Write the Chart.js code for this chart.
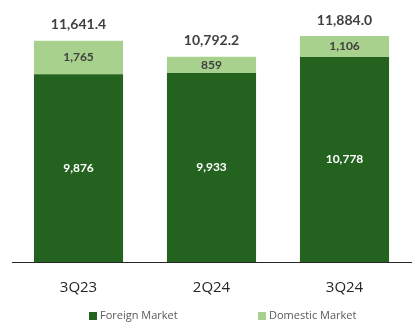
<!DOCTYPE html>
<html>
<head>
<meta charset="utf-8">
<script src="https://cdn.jsdelivr.net/npm/chart.js@4"></script>
<style>
  html, body { margin: 0; padding: 0; background: #fff; }
  #wrap { width: 419px; height: 332px; }
</style>
</head>
<body>
<div id="wrap"><canvas id="chart" width="419" height="332"></canvas></div>
<script>
const quarters = ['3Q23', '2Q24', '3Q24'];
const foreignMarket = [9876, 9933, 10778];
const domesticMarket = [1765, 859, 1106];
const totals = [11641.4, 10792.2, 11884.0];

const DARK = '#23621f';
const LIGHT = '#a9d18e';

const fmtInt = v => v.toLocaleString('en-US');
const fmtOne = v => v.toLocaleString('en-US', { minimumFractionDigits: 1, maximumFractionDigits: 1 });

// segment values inside bars, totals above them
const barLabels = {
    id: 'barLabels',
    afterDatasetsDraw(chart) {
        const ctx = chart.ctx;
        ctx.save();
        ctx.textAlign = 'center';
        ctx.textBaseline = 'middle';

        const foreign = chart.getDatasetMeta(0).data;
        const domestic = chart.getDatasetMeta(1).data;

        ctx.font = 'bold 12px Lato, "Open Sans", sans-serif';
        foreign.forEach((bar, i) => {
            ctx.fillStyle = '#ffffff';
            ctx.fillText(fmtInt(foreignMarket[i]), bar.x, (bar.y + bar.base) / 2);
        });
        domestic.forEach((bar, i) => {
            ctx.fillStyle = '#404040';
            ctx.fillText(fmtInt(domesticMarket[i]), bar.x, (bar.y + bar.base) / 2);
        });

        ctx.font = 'bold 14px Lato, "Open Sans", sans-serif';
        ctx.fillStyle = '#404040';
        domestic.forEach((bar, i) => {
            ctx.fillText(fmtOne(totals[i]), bar.x, bar.y - 16);
        });
        ctx.restore();
    }
};

// legend row under the axis, with wide spacing between the two entries
const wideLegend = {
    id: 'wideLegend',
    afterDraw(chart) {
        const ctx = chart.ctx;
        const items = chart.data.datasets.map(ds => ({ text: ds.label, color: ds.backgroundColor }));
        const y = 316;
        const xs = [89, 258];
        ctx.save();
        ctx.font = '11px "Open Sans", sans-serif';
        ctx.textBaseline = 'middle';
        ctx.textAlign = 'left';
        items.forEach((it, i) => {
            ctx.fillStyle = it.color;
            ctx.fillRect(xs[i], y - 4, 8, 8);
            ctx.fillStyle = '#595959';
            ctx.fillText(it.text, xs[i] + 11, y);
        });
        ctx.restore();
    }
};

new Chart(document.getElementById('chart'), {
    type: 'bar',
    data: {
        labels: quarters,
        datasets: [
            { label: 'Foreign Market', data: foreignMarket, backgroundColor: DARK },
            { label: 'Domestic Market', data: domesticMarket, backgroundColor: LIGHT }
        ]
    },
    options: {
        responsive: false,
        animation: false,
        layout: { padding: { top: 11, left: 12, right: 8, bottom: 26 } },
        datasets: { bar: { barPercentage: 0.67, categoryPercentage: 1 } },
        scales: {
            x: {
                stacked: true,
                grid: { display: false },
                border: { display: true, color: '#262626', width: 1 },
                ticks: { color: '#262626', font: { family: '"Open Sans", sans-serif', size: 15 }, padding: 9 }
            },
            y: {
                stacked: true,
                display: false,
                min: 0,
                max: 13200
            }
        },
        plugins: {
            legend: { display: false },
            tooltip: { enabled: false }
        }
    },
    plugins: [barLabels, wideLegend]
});
</script>
</body>
</html>
